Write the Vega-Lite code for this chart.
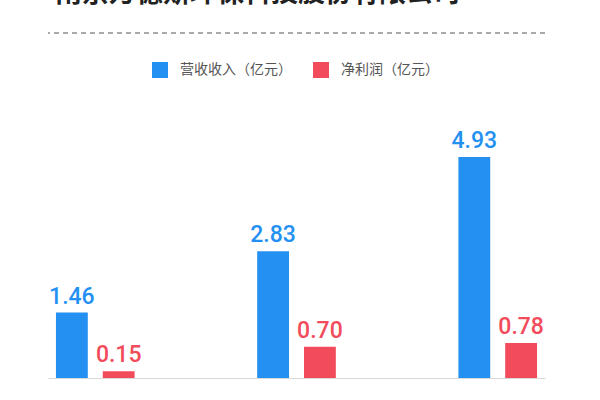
{
  "$schema": "https://vega.github.io/schema/vega-lite/v6.json",
  "width": 497,
  "height": 345,
  "autosize": {"type": "none"},
  "padding": {"left": 48, "top": 33, "right": 55, "bottom": 22},
  "background": "white",
  "config": {"view": {"stroke": null}},
  "title": {
    "text": "南京万德斯环保科技股份有限公司",
    "anchor": "start",
    "frame": "group",
    "offset": 24,
    "dx": 7,
    "font": "Noto Sans CJK SC",
    "fontSize": 27,
    "fontWeight": "bold",
    "color": "#222222"
  },
  "layer": [
    {
      "data": {
        "values": [
          {"year": "2017", "series": "营收收入（亿元）", "value": 1.46},
          {"year": "2017", "series": "净利润（亿元）", "value": 0.15},
          {"year": "2018", "series": "营收收入（亿元）", "value": 2.83},
          {"year": "2018", "series": "净利润（亿元）", "value": 0.70},
          {"year": "2019", "series": "营收收入（亿元）", "value": 4.93},
          {"year": "2019", "series": "净利润（亿元）", "value": 0.78}
        ]
      },
      "encoding": {
        "x": {
          "field": "year",
          "type": "nominal",
          "scale": {"paddingInner": 0.53, "paddingOuter": 0},
          "axis": {"labels": false, "ticks": false, "title": null, "domainColor": "#d9d9d9", "domainWidth": 1, "grid": false}
        },
        "xOffset": {
          "field": "series",
          "type": "nominal",
          "sort": ["营收收入（亿元）", "净利润（亿元）"],
          "scale": {"paddingInner": 0.32, "paddingOuter": 0.17}
        },
        "y": {
          "field": "value",
          "type": "quantitative",
          "scale": {"domain": [0, 7.7], "nice": false},
          "axis": null
        },
        "color": {
          "field": "series",
          "type": "nominal",
          "scale": {"domain": ["营收收入（亿元）", "净利润（亿元）"], "range": ["#2491F2", "#F24B5B"]},
          "legend": {
            "orient": "none",
            "legendX": 104,
            "legendY": 29,
            "direction": "horizontal",
            "title": null,
            "padding": 0,
            "symbolType": "square",
            "symbolSize": 256,
            "symbolStrokeWidth": 0,
            "symbolOpacity": 1,
            "labelFont": "Noto Sans CJK SC",
            "labelFontSize": 14,
            "labelColor": "#555555",
            "labelOffset": 12,
            "columnPadding": 21,
            "labelLimit": 200
          }
        }
      },
      "layer": [
        {"mark": {"type": "bar"}},
        {
          "mark": {"type": "text", "baseline": "alphabetic", "dy": -9, "font": "Roboto", "fontSize": 23, "fontWeight": 500},
          "encoding": {"text": {"field": "value", "type": "quantitative", "format": ".2f"}}
        }
      ]
    },
    {
      "data": {"values": [{}]},
      "mark": {"type": "rule", "strokeDash": [5, 4], "color": "#555555", "strokeWidth": 1.2},
      "encoding": {"y": {"datum": 7.7, "type": "quantitative"}}
    }
  ]
}
